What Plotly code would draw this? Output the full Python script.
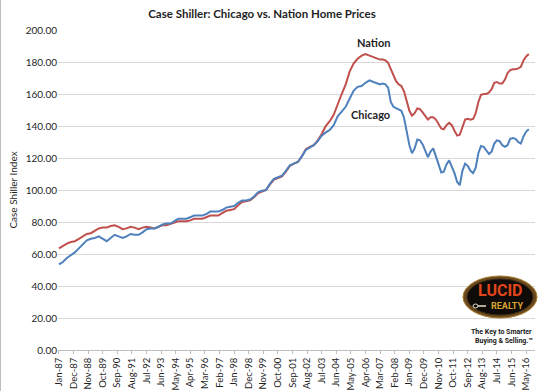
import pandas as pd
import plotly.graph_objects as go

# ---------------- data ----------------
quarter_dates = [f"{y}-{m:02d}-01" for y in range(1987, 2007) for m in (1, 4, 7, 10)]
bimonth_dates = [f"{y}-{m:02d}-01" for y in range(2007, 2017) for m in (1, 3, 5, 7, 9, 11)
                 if not (y == 2016 and m > 7)]
dates = quarter_dates + bimonth_dates

chicago = [
    53.5, 55, 57.5, 59,        # 1987
    61, 63.5, 66, 68.5,        # 1988
    69.5, 70, 71, 69.5,        # 1989
    68, 70, 72, 71,            # 1990
    70, 71, 72.5, 72,          # 1991
    72, 73.5, 75.5, 76,        # 1992
    76, 77, 78.5, 79,          # 1993
    79, 80.5, 82, 82,          # 1994
    82, 83, 84, 84,            # 1995
    84, 85, 86.5, 86.5,        # 1996
    86.5, 87.5, 89, 89.5,      # 1997
    90, 92, 93.5, 93.5,        # 1998
    94, 96, 98.5, 99.5,        # 1999
    100, 104, 107, 108,        # 2000
    109, 112, 115.5, 116.5,    # 2001
    117.5, 121, 125, 126.5,    # 2002
    128, 130.5, 134, 136,      # 2003
    137.5, 140.5, 146, 149,    # 2004
    152, 157, 162, 164.5,      # 2005
    165, 167, 168.5, 167.5,    # 2006
    166.5, 166, 166.5, 166, 164, 155,        # 2007
    152, 151, 150.5, 149.5, 145, 137,        # 2008
    128, 123, 126, 131.5, 131, 128.5,        # 2009
    124, 120.5, 124, 126, 121, 116,          # 2010
    111, 111.5, 116, 118.5, 114.5, 110.5,    # 2011
    105, 103, 112, 116.5, 115, 112,          # 2012
    110.5, 114, 123, 127.5, 127, 124.5,      # 2013
    122.5, 124, 129, 131, 130.5, 128,        # 2014
    127, 128, 132, 132.5, 132, 130,          # 2015
    129, 133.5, 136.5, 138,                  # 2016
]

nation = [
    63.5, 65, 66.5, 67.5,      # 1987
    68, 69.5, 71, 72.5,        # 1988
    73, 74.5, 76, 76.5,        # 1989
    76.5, 77.5, 78, 77,        # 1990
    75.5, 76, 77, 76.5,        # 1991
    75.5, 76.5, 77, 76.5,      # 1992
    76, 77, 78, 78,            # 1993
    79, 79.5, 80.5, 80.5,      # 1994
    80.5, 81, 82, 82,          # 1995
    82, 83, 84, 84,            # 1996
    84, 85.5, 87, 87.5,        # 1997
    88, 90.5, 92.5, 93,        # 1998
    93.5, 95.5, 98, 99,        # 1999
    100, 103.5, 106.5, 107.5,  # 2000
    108.5, 111.5, 115, 116.5,  # 2001
    117.5, 121, 125.5, 127,    # 2002
    128, 131, 135, 140,        # 2003
    143, 147, 154, 160,        # 2004
    166, 174, 179, 182,        # 2005
    184, 185, 184, 183,        # 2006
    182, 181.5, 181.5, 181, 179.5, 175.5,    # 2007
    171, 168, 166, 165, 161.5, 155,          # 2008
    149.5, 146.5, 148, 151, 150.5, 148.5,    # 2009
    146, 144, 145.5, 145.5, 144, 141,        # 2010
    138.5, 138, 140.5, 142, 140.5, 137,      # 2011
    134, 134.5, 140, 144, 144.5, 144,        # 2012
    144.5, 148, 155, 159.5, 160, 160,        # 2013
    161, 163, 167, 167.5, 166.5, 166.5,      # 2014
    169, 173, 175, 175.5, 175.5, 176,        # 2015
    177, 181, 183.5, 185,                    # 2016
]

tick_dates = pd.date_range("1987-01-01", "2016-05-01", freq="11MS")
tick_labels = [d.strftime("%b-%y") for d in tick_dates]

title_text = "Case Shiller: Chicago vs. Nation Home Prices"
y_title = "Case Shiller Index"

# ---------------- figure ----------------
W, H = 540, 391
L, R, T, B = 58, 5, 30, 41
FONT = "Lato, 'Open Sans', sans-serif"
INK = "#1F1F1F"


def px(x):
    return (x - L) / (W - L - R)


def py(y):
    return (H - B - y) / (H - T - B)


fig = go.Figure()
fig.add_trace(go.Scatter(x=dates, y=nation, mode="lines", name="Nation",
                         line=dict(color="#C0504D", width=2)))
fig.add_trace(go.Scatter(x=dates, y=chicago, mode="lines", name="Chicago",
                         line=dict(color="#4F81BD", width=2)))

fig.update_layout(
    width=W, height=H,
    margin=dict(l=L, r=R, t=T, b=B, autoexpand=False),
    paper_bgcolor="white", plot_bgcolor="white",
    showlegend=False,
    font=dict(family=FONT, color=INK),
    title=dict(text="<b>" + title_text + "</b>", x=262 / W, xanchor="center",
               y=1 - 14 / H, yanchor="middle", font=dict(size=11.5, color=INK)),
)

fig.update_xaxes(
    type="date",
    range=["1986-12-10", "2016-11-20"],
    tickvals=tick_dates, ticktext=tick_labels, tickangle=-90,
    tickfont=dict(size=9.5, color=INK),
    showgrid=False, showline=True, linecolor="#BFBFBF", linewidth=1,
    ticks="outside", ticklen=3, tickcolor="#BFBFBF",
    zeroline=False,
)
fig.update_yaxes(
    range=[0, 200], dtick=20, tickformat=".2f",
    tickfont=dict(size=10, color=INK),
    showgrid=True, gridcolor="#D9D9D9", gridwidth=1,
    zeroline=False, showline=False, ticks="",
    title=dict(text=y_title, font=dict(size=10, color=INK), standoff=6),
)

# series labels
fig.add_annotation(x="2006-10-01", y=192, text="<b>Nation</b>", showarrow=False,
                   font=dict(size=11, color=INK, family=FONT))
fig.add_annotation(x="2006-08-01", y=147, text="<b>Chicago</b>", showarrow=False,
                   font=dict(size=11, color=INK, family=FONT))

# logo
shapes = []
shapes.append(dict(type="circle", xref="paper", yref="paper",
                   x0=px(463), x1=px(537), y0=py(318), y1=py(276),
                   fillcolor="#6B4A1F", line=dict(color="#A57C2C", width=1)))
shapes.append(dict(type="circle", xref="paper", yref="paper",
                   x0=px(467), x1=px(533), y0=py(315), y1=py(279),
                   fillcolor="#0E0B08", line=dict(color="#3A2A14", width=1)))
# key
shapes.append(dict(type="circle", xref="paper", yref="paper",
                   x0=px(473), x1=px(478), y0=py(308), y1=py(304),
                   fillcolor="rgba(0,0,0,0)", line=dict(color="#E8E0C8", width=1)))
shapes.append(dict(type="line", xref="paper", yref="paper",
                   x0=px(478), x1=px(486), y0=py(306), y1=py(306),
                   line=dict(color="#E8E0C8", width=1.5)))
# border of picture
shapes.append(dict(type="line", xref="paper", yref="paper",
                   x0=px(0.5), x1=px(0.5), y0=py(0), y1=py(H),
                   line=dict(color="#BFBFBF", width=1)))
fig.update_layout(shapes=shapes)

NARROW = "'Roboto', 'DejaVu Sans Condensed', sans-serif"


def logo_text(x, y, text, size, color):
    fig.add_annotation(xref="paper", yref="paper", x=px(x), y=py(y), text=text,
                       xanchor="center", yanchor="middle", showarrow=False,
                       font=dict(size=size, color=color, family=NARROW))


logo_text(500, 290, "<b>LUCID</b>", 16, "#E0461C")
logo_text(507, 306, "<b>REALTY</b>", 9, "#D9A432")
logo_text(501, 332, "<b>The Key to Smarter</b>", 7, "#1A1A1A")
logo_text(504, 341, "<b>Buying &amp; Selling.™</b>", 7, "#1A1A1A")

fig.write_html("out.html", config={"displayModeBar": False},
               post_script="document.body.style.margin='0px';document.body.style.overflow='hidden';")
